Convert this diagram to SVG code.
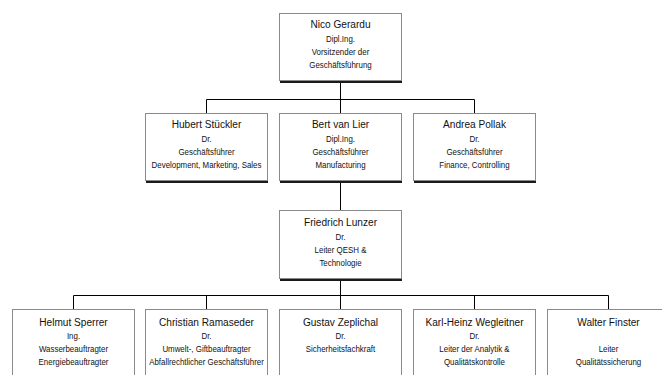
<svg xmlns="http://www.w3.org/2000/svg" width="662" height="375" viewBox="0 0 662 375">
<style>
.sh{fill:#1a1a1a}
.bx{fill:#fff;stroke:#8a8a8a;stroke-width:1}
.c{fill:none;stroke:#000;stroke-width:1}
text{font-family:"Liberation Sans",Arial,sans-serif;fill:#111;text-anchor:middle}
.n{font-size:11px}
.s{font-size:8.6px}
</style>
<rect width="662" height="375" fill="#fff"/>
<g id="connectors">
<path class="c" d="M340.5 80V113M206.5 113V99.5H474.5V113M340.5 180V210M340.5 278V309M73.5 309V295.5H608.5V309M206.5 295.5V309M474.5 295.5V309"/>
</g>
<g id="nico">
<rect class="sh" x="280" y="16" width="122" height="67"/>
<rect class="bx" x="279.5" y="13.5" width="122" height="67"/>
<g transform="translate(340.5 0) scale(0.92 1)">
<text class="n" x="0" y="28.5">Nico Gerardu</text>
<text class="s" x="0" y="42">Dipl.Ing.</text>
<text class="s" x="0" y="55.5">Vorsitzender der</text>
<text class="s" x="0" y="68.5">Geschäftsführung</text>
</g>
</g>
<g id="hubert">
<rect class="sh" x="146" y="116" width="122" height="67"/>
<rect class="bx" x="145.5" y="113.5" width="122" height="67"/>
<g transform="translate(206.5 0) scale(0.92 1)">
<text class="n" x="0" y="128.5">Hubert Stückler</text>
<text class="s" x="0" y="142">Dr.</text>
<text class="s" x="0" y="155.5">Geschäftsführer</text>
<text class="s" x="0" y="168.5">Development, Marketing, Sales</text>
</g>
</g>
<g id="bert">
<rect class="sh" x="280" y="116" width="122" height="67"/>
<rect class="bx" x="279.5" y="113.5" width="122" height="67"/>
<g transform="translate(340.5 0) scale(0.92 1)">
<text class="n" x="0" y="128.5">Bert van Lier</text>
<text class="s" x="0" y="142">Dipl.Ing.</text>
<text class="s" x="0" y="155.5">Geschäftsführer</text>
<text class="s" x="0" y="168.5">Manufacturing</text>
</g>
</g>
<g id="andrea">
<rect class="sh" x="414" y="116" width="122" height="67"/>
<rect class="bx" x="413.5" y="113.5" width="122" height="67"/>
<g transform="translate(474.5 0) scale(0.92 1)">
<text class="n" x="0" y="128.5">Andrea Pollak</text>
<text class="s" x="0" y="142">Dr.</text>
<text class="s" x="0" y="155.5">Geschäftsführer</text>
<text class="s" x="0" y="168.5">Finance, Controlling</text>
</g>
</g>
<g id="friedrich">
<rect class="sh" x="280" y="213" width="122" height="68"/>
<rect class="bx" x="279.5" y="210.5" width="122" height="68"/>
<g transform="translate(340.5 0) scale(0.92 1)">
<text class="n" x="0" y="226.5">Friedrich Lunzer</text>
<text class="s" x="0" y="240">Dr.</text>
<text class="s" x="0" y="253.5">Leiter QESH &amp;</text>
<text class="s" x="0" y="266.5">Technologie</text>
</g>
</g>
<g id="helmut">
<rect class="bx" x="12.5" y="309.5" width="122" height="80"/>
<g transform="translate(73.5 0) scale(0.92 1)">
<text class="n" x="0" y="326">Helmut Sperrer</text>
<text class="s" x="0" y="339.5">Ing.</text>
<text class="s" x="0" y="352.5">Wasserbeauftragter</text>
<text class="s" x="0" y="365.5">Energiebeauftragter</text>
</g>
</g>
<g id="christian">
<rect class="bx" x="145.5" y="309.5" width="122" height="80"/>
<g transform="translate(206.5 0) scale(0.92 1)">
<text class="n" x="0" y="326">Christian Ramaseder</text>
<text class="s" x="0" y="339.5">Dr.</text>
<text class="s" x="0" y="352.5">Umwelt-, Giftbeauftragter</text>
<text class="s" x="0" y="365.5">Abfallrechtlicher Geschäftsführer</text>
</g>
</g>
<g id="gustav">
<rect class="bx" x="279.5" y="309.5" width="122" height="80"/>
<g transform="translate(340.5 0) scale(0.92 1)">
<text class="n" x="0" y="326">Gustav Zeplichal</text>
<text class="s" x="0" y="339.5">Dr.</text>
<text class="s" x="0" y="352.5">Sicherheitsfachkraft</text>
</g>
</g>
<g id="karlheinz">
<rect class="bx" x="413.5" y="309.5" width="122" height="80"/>
<g transform="translate(474.5 0) scale(0.92 1)">
<text class="n" x="0" y="326">Karl-Heinz Wegleitner</text>
<text class="s" x="0" y="339.5">Dr.</text>
<text class="s" x="0" y="352.5">Leiter der Analytik &amp;</text>
<text class="s" x="0" y="365.5">Qualitätskontrolle</text>
</g>
</g>
<g id="walter">
<rect class="bx" x="547.5" y="309.5" width="122" height="80"/>
<g transform="translate(608.5 0) scale(0.92 1)">
<text class="n" x="0" y="326">Walter Finster</text>
<text class="s" x="0" y="352.5">Leiter</text>
<text class="s" x="0" y="365.5">Qualitätssicherung</text>
</g>
</g>
</svg>
